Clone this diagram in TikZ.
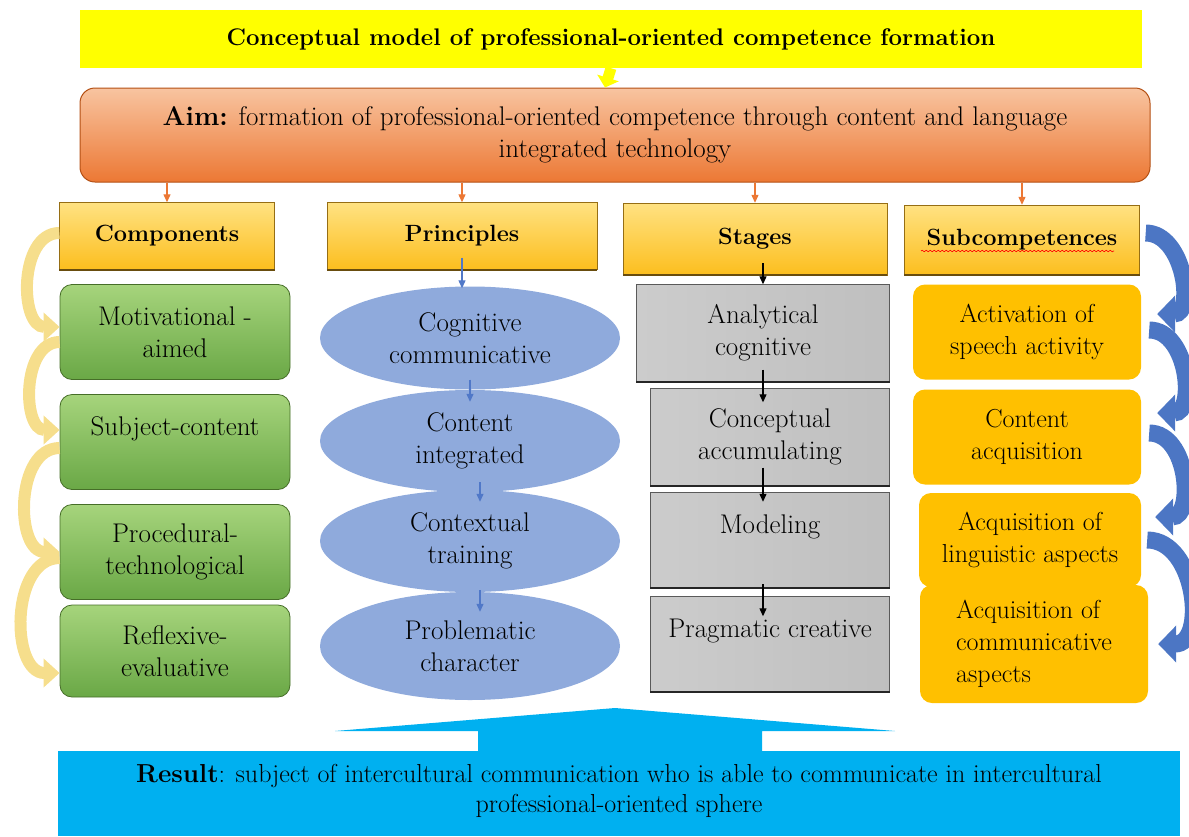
\documentclass[tikz,border=0pt]{standalone}
\usepackage{fontspec}
\usetikzlibrary{arrows.meta,shapes.geometric,decorations.pathmorphing}

\definecolor{titleyellow}{RGB}{255,255,0}
\definecolor{aimtop}{RGB}{248,196,160}
\definecolor{aimbot}{RGB}{236,120,52}
\definecolor{aimline}{RGB}{180,80,20}
\definecolor{hdrtop}{RGB}{255,226,130}
\definecolor{hdrbot}{RGB}{252,190,30}
\definecolor{hdrline}{RGB}{150,110,20}
\definecolor{comptop}{RGB}{166,212,124}
\definecolor{compbot}{RGB}{106,168,70}
\definecolor{compline}{RGB}{70,110,40}
\definecolor{princblue}{RGB}{143,170,220}
\definecolor{stageline}{RGB}{90,90,90}
\definecolor{subcgold}{RGB}{255,192,0}
\definecolor{resblue}{RGB}{0,176,240}
\definecolor{yarrowcol}{RGB}{246,222,140}
\definecolor{barrowcol}{RGB}{76,118,196}
\definecolor{smallblue}{RGB}{80,120,200}

\newcommand\bodyfont{\fontsize{27}{32}\selectfont}
\newcommand\subcfont{\fontsize{26}{32}\selectfont}
\newcommand\hdrfont{\fontsize{23.5}{30}\selectfont\bfseries}
\newcommand\resfont{\fontsize{26}{30}\selectfont}

\tikzset{
  box/.style={align=center, inner sep=2pt, font=\bodyfont},
  hdr/.style={box, font=\hdrfont, top color=hdrtop, bottom color=hdrbot,
    draw=hdrline},
  compbox/.style={box, rounded corners=12pt, draw=compline, line width=0.8pt,
    top color=comptop, bottom color=compbot, minimum width=230pt, minimum height=95pt},
  princell/.style={box, ellipse, fill=princblue, minimum width=300pt,
    minimum height=103pt},
  stagebox/.style={box, draw=stageline, left color=gray!40, middle color=gray!15,
    right color=gray!50, minimum width=239pt, minimum height=97pt},
  subcbox/.style={box, font=\subcfont, rounded corners=12pt, fill=subcgold,
    minimum width=228pt, minimum height=95pt},
  oarrow/.style={draw=aimbot, line width=1.2pt, -{Triangle[width=7pt,length=8pt]}},
  barrow/.style={draw=smallblue, line width=1.2pt, -{Triangle[width=7pt,length=8pt]}},
  karrow/.style={draw=black, line width=1.2pt, -{Triangle[width=7pt,length=8pt]}},
  yarrow/.style={draw=yarrowcol, line width=12pt, looseness=1.1,
    -{Triangle[width=28pt,length=16pt]}},
  bcarrow/.style={draw=barrowcol, line width=17pt, looseness=1.2,
    -{Triangle[width=36pt,length=18pt]}},
}

\begin{document}
\begin{tikzpicture}[x=1pt,y=1pt]
\useasboundingbox (0,0) rectangle (1189,-836);

% title and aim
\node[box, font=\fontsize{24}{30}\selectfont\bfseries, fill=titleyellow,
  minimum width=1062pt, minimum height=58pt] (title) at (611,-39)
  {Conceptual model of professional-oriented competence formation};
\node[box, rounded corners=15pt, draw=aimline, line width=1pt, top color=aimtop,
  bottom color=aimbot, minimum width=1070pt, minimum height=94pt] (aim) at (615,-135)
  {\textbf{Aim:} formation of professional-oriented competence through content and language\\
   integrated technology};

% column headers
\node[hdr, minimum width=215pt, minimum height=67pt] (comp) at (167,-236) {Components};
\node[hdr, minimum width=270pt, minimum height=67pt] (princ) at (462,-236) {Principles};
\node[hdr, minimum width=264pt, minimum height=72pt] (stages) at (755,-239) {Stages};
\node[hdr, minimum width=235pt, minimum height=70pt] (subc) at (1022,-240) {Subcompetences};

% components
\node[compbox] (motiv) at (175,-332) {Motivational -\\aimed};
\node[compbox] (subj) at (175,-442) {Subject-content\\\mbox{}};
\node[compbox] (proc) at (175,-552) {Procedural-\\technological};
\node[compbox, minimum height=92pt] (refl) at (175,-651) {Reflexive-\\evaluative};

% principles
\node[princell] (cogn) at (470,-338) {Cognitive\\communicative};
\node[princell, minimum height=102pt] (cont) at (470,-441) {Content\\integrated};
\node[princell, minimum height=102pt] (ctx) at (470,-541) {Contextual\\training};
\node[princell, minimum height=108pt] (prob) at (470,-646) {Problematic\\character};

% stages
\node[stagebox, minimum width=253pt] (anal) at (763,-333) {Analytical\\cognitive};
\node[stagebox] (concp) at (770,-437) {Conceptual\\accumulating};
\node[stagebox, minimum height=96pt] (model) at (770,-540) {Modeling\\\mbox{}};
\node[stagebox, minimum height=95pt] (prag) at (770,-644) {Pragmatic creative\\\mbox{}};

% subcompetences
\node[subcbox] (activ) at (1027,-332) {Activation of\\speech activity};
\node[subcbox] (acqc) at (1027,-437) {Content\\acquisition};
\node[subcbox, minimum width=222pt, minimum height=94pt] (acql) at (1030,-540)
  {Acquisition of\\linguistic aspects};
\node[subcbox, align=left, minimum height=118pt] (acqm) at (1034,-644)
  {Acquisition of\\communicative\\aspects};

% result
\node[box, font=\resfont, fill=resblue, minimum width=1122pt, minimum height=85pt,
  anchor=north, inner sep=5pt] (res) at (619,-751)
  {\textbf{Result}: subject of intercultural communication who is able to communicate in intercultural\\
   professional-oriented sphere\\[-20pt]\mbox{}};
\fill[resblue] (res.north) ++(-141,0) -- ++(0,20) -- ++(-143,0) -- ++(280,23)
  -- ++(280,-23) -- ++(-133,0) -- ++(0,-20) -- cycle;

% header and stage shadows, spell-check line
\foreach \h in {comp,princ,stages,subc}
  \draw[line width=2pt, hdrline!70!black] (\h.south west) -- (\h.south east);
\foreach \h in {anal,concp,model,prag}
  \draw[line width=2pt, gray!30!black] (\h.south west) -- (\h.south east);
\draw[red, line width=0.6pt, decorate,
  decoration={snake, amplitude=0.8pt, segment length=4pt}]
  ([xshift=-101pt,yshift=-11pt]subc.center) -- ([xshift=92pt,yshift=-11pt]subc.center);

% connectors
\draw[draw=titleyellow, line width=11pt, -{Triangle[width=22pt,length=10pt]}]
  (title.south) -- ([xshift=-6pt]title.south |- aim.north);
\foreach \h in {comp,princ,stages,subc}
  \draw[oarrow] (\h.north |- aim.south) -- (\h.north);
\draw[barrow] ([yshift=12pt]princ.south) -- ([yshift=-2pt]princ.south |- cogn.north);
\draw[barrow] ([yshift=10pt]cogn.south) -- ([yshift=-12pt]cont.north);
\draw[barrow] ([xshift=10pt,yshift=10pt]cont.south) -- ([xshift=10pt,yshift=-12pt]ctx.north);
\draw[barrow] ([xshift=10pt,yshift=2pt]ctx.south) -- ([xshift=10pt,yshift=-20pt]prob.north);
\draw[karrow] ([xshift=8pt,yshift=12pt]stages.south) -- (anal.north);
\draw[karrow] ([yshift=12pt]anal.south) -- ([xshift=-7pt,yshift=-14pt]concp.north);
\draw[karrow] ([xshift=-7pt,yshift=18pt]concp.south) -- ([xshift=-7pt,yshift=-10pt]model.north);
\draw[karrow] ([xshift=-7pt,yshift=4pt]model.south) -- ([xshift=-7pt,yshift=-20pt]prag.north);

% curved arrows
\draw[yarrow] ([yshift=3pt]comp.west) to[out=180,in=180] ([yshift=5pt]motiv.west);
\draw[yarrow] ([yshift=-10pt]motiv.west) to[out=180,in=180] ([yshift=12pt]subj.west);
\draw[yarrow] ([yshift=-6pt]subj.west) to[out=180,in=180] (proc.west);
\draw[yarrow] ([yshift=-6pt]proc.west) to[out=180,in=180] ([yshift=-22pt]refl.west);
\draw[bcarrow] ([xshift=6pt,yshift=7pt]subc.east) to[out=0,in=0] ([xshift=16pt,yshift=18pt]activ.east);
\draw[bcarrow] ([xshift=8pt,yshift=2pt]activ.east) to[out=0,in=0] ([xshift=16pt,yshift=24pt]acqc.east);
\draw[bcarrow] ([xshift=8pt,yshift=4pt]acqc.east) to[out=0,in=0] ([xshift=14pt,yshift=23pt]acql.east);
\draw[bcarrow] ([xshift=6pt]acql.east) to[out=0,in=0] ([xshift=10pt]acqm.east);
\end{tikzpicture}
\end{document}
